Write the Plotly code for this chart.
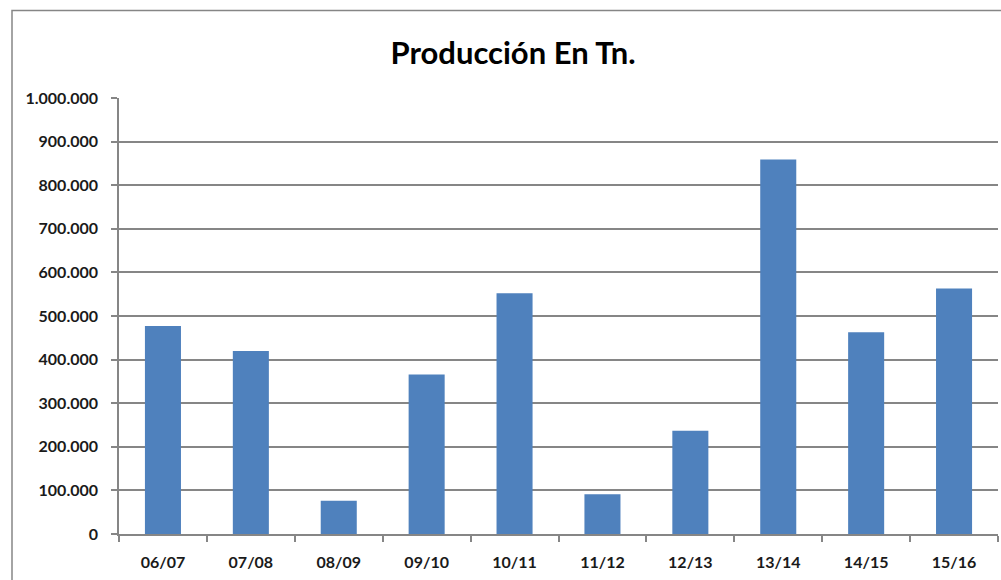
import plotly.graph_objects as go

categories = ["06/07", "07/08", "08/09", "09/10", "10/11", "11/12", "12/13", "13/14", "14/15", "15/16"]
produccion = [477000, 420000, 76000, 366000, 552000, 91000, 237000, 859000, 463000, 563000]
y_ticks = [0, 100000, 200000, 300000, 400000, 500000, 600000, 700000, 800000, 900000, 1000000]

W, H = 1001, 580
L, R, T, B = 119, 3, 98, 46
pw, ph = W - L - R, H - T - B


def px_x(p):
    return (p - L) / pw


def px_y(p):
    return (H - B - p) / ph


fig = go.Figure(go.Bar(
    x=categories, y=produccion,
    marker=dict(color="#4F81BD", line=dict(width=0)),
    showlegend=False,
))

tick_font = dict(family="Lato", size=16, color="#1a1a1a", weight="bold")

fig.update_layout(
    width=W, height=H,
    margin=dict(l=L, r=R, t=T, b=B),
    paper_bgcolor="white", plot_bgcolor="white",
    separators=",.",
    bargap=0.59,
    title=dict(text="<b>Producción En Tn.</b>", x=513 / W, xanchor="center",
               y=1 - 53 / H, yanchor="middle",
               font=dict(family="Lato", size=31, color="#000000")),
    font=dict(family="Lato", color="#1a1a1a"),
    xaxis=dict(
        showline=True, linecolor="#868686", linewidth=1.5,
        ticks="outside", ticklen=6, tickcolor="#868686", tickwidth=1.5,
        tickson="boundaries", showgrid=False,
        tickfont=tick_font,
        ticklabelstandoff=13,
    ),
    yaxis=dict(
        range=[0, 1000000], tickvals=y_ticks, tickformat=",d",
        showline=True, linecolor="#868686", linewidth=1.5,
        ticks="outside", ticklen=6, tickcolor="#868686", tickwidth=1.5,
        showgrid=True, gridcolor="#868686", gridwidth=1.5,
        zeroline=False,
        tickfont=tick_font,
        ticklabelstandoff=10,
    ),
    shapes=[dict(type="rect", xref="paper", yref="paper",
                 x0=px_x(12), x1=px_x(1010), y0=px_y(600), y1=px_y(10.5),
                 line=dict(color="#868686", width=1.5), layer="below")],
)

fig.write_html("out.html", config={"displayModeBar": False},
               post_script="document.body.style.margin='0';document.body.style.overflow='hidden';")
